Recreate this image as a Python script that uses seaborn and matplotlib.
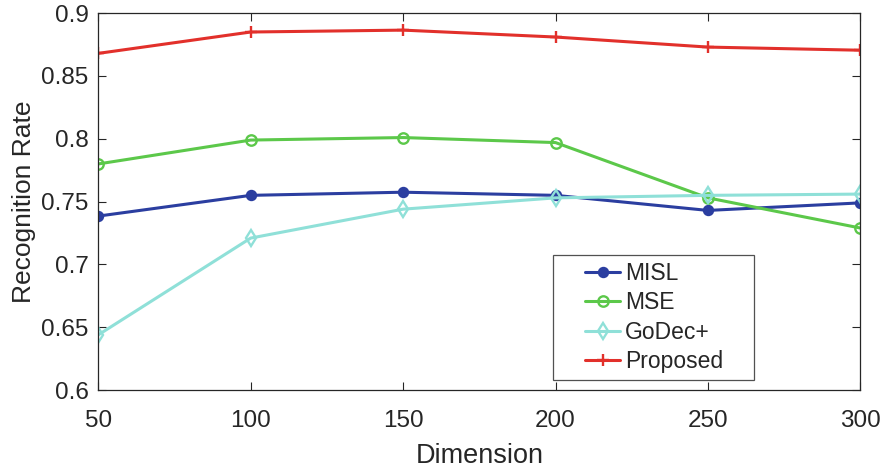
import numpy as np
import pandas as pd
import matplotlib
matplotlib.use("Agg")
import matplotlib.pyplot as plt
import seaborn as sns
from matplotlib.legend_handler import HandlerLine2D

dimensions = [50, 100, 150, 200, 250, 300]
misl = [0.7385, 0.755, 0.7575, 0.755, 0.743, 0.749]
mse = [0.780, 0.799, 0.801, 0.797, 0.753, 0.729]
godec = [0.644, 0.721, 0.744, 0.753, 0.755, 0.756]
proposed = [0.868, 0.885, 0.8865, 0.881, 0.873, 0.8705]

methods = ["MISL", "MSE", "GoDec+", "Proposed"]
colors = ["#2b3ea0", "#5cc84a", "#8fe0d8", "#e2302b"]
markers = ["o", "o", "d", "+"]
msizes = [6.5, 7.5, 8.5, 8]
fills = [True, False, False, True]

df = pd.DataFrame({"Dimension": dimensions, "MISL": misl, "MSE": mse,
                   "GoDec+": godec, "Proposed": proposed})
long = df.melt(id_vars="Dimension", var_name="Method", value_name="Rate")


class ShiftedHandler(HandlerLine2D):
    # draw the legend line only in the right part of the handle box (MATLAB look)
    def create_artists(self, legend, orig_handle, xdescent, ydescent,
                       width, height, fontsize, trans):
        off = 18
        return super().create_artists(legend, orig_handle, xdescent - off,
                                      ydescent, width - off, height,
                                      fontsize, trans)


sns.set_theme(style="white")
plt.rcParams["font.family"] = ["Liberation Sans", "DejaVu Sans"]

fig, ax = plt.subplots(figsize=(8.86, 4.70), dpi=100)
fig.subplots_adjust(left=0.111, right=0.971, top=0.972, bottom=0.170)

for name, c, m, ms, f in zip(methods, colors, markers, msizes, fills):
    sub = long[long["Method"] == name]
    sns.lineplot(data=sub, x="Dimension", y="Rate", ax=ax, color=c, lw=2.2,
                 label=name, marker=m, markersize=ms,
                 markerfacecolor=c if f else "none", markeredgecolor=c,
                 markeredgewidth=1.7)

ax.set_xlim(50, 300)
ax.set_ylim(0.6, 0.9)
ax.set_xticks(dimensions)
ax.set_yticks([0.6, 0.65, 0.7, 0.75, 0.8, 0.85, 0.9])
ax.set_yticklabels(["0.6", "0.65", "0.7", "0.75", "0.8", "0.85", "0.9"])
ax.tick_params(direction="in", length=5.8, width=0.8, labelsize=17.5,
               colors="#262626", top=True, right=True, bottom=True, left=True)
ax.tick_params(axis="y", pad=7)
ax.tick_params(axis="x", pad=14)
for s in ax.spines.values():
    s.set_color("#262626")
    s.set_linewidth(0.9)
ax.set_xlabel("Dimension", fontsize=19.5, color="#262626", labelpad=8)
ax.set_ylabel("Recognition Rate", fontsize=19, color="#262626", labelpad=4)

handles, labels = ax.get_legend_handles_labels()
leg = ax.legend(handles, labels, loc="lower left",
                bbox_to_anchor=(0.597, 0.0265, 0.264, 0.3), mode="expand",
                borderaxespad=0, fontsize=16.5, frameon=True, fancybox=False,
                edgecolor="#262626", handlelength=2.62, handletextpad=0.22,
                borderpad=0.3, labelspacing=0.28,
                handler_map={h: ShiftedHandler() for h in handles})
leg.get_frame().set_linewidth(0.9)

fig.savefig("out.png", dpi=100)
